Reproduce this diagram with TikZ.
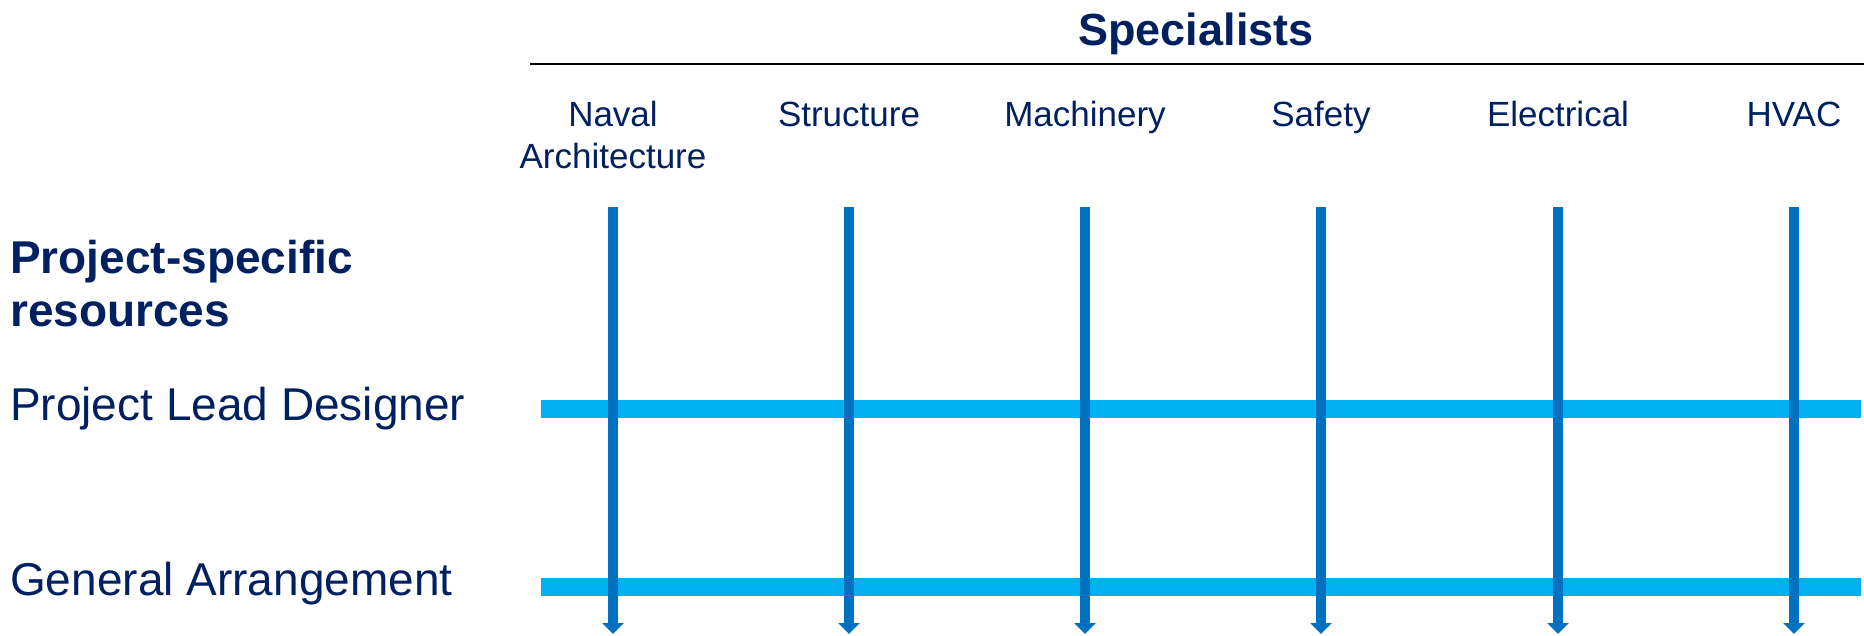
\documentclass[tikz,border=0pt]{standalone}
\usepackage{fontspec}
\setmainfont{Liberation Sans}
\usepackage{tikz}
\usetikzlibrary{arrows.meta}

\definecolor{navy}{HTML}{002060}
\definecolor{specblue}{HTML}{0070C0}
\definecolor{barblue}{HTML}{00B0F0}

\tikzset{
  heading/.style = {text=navy, font=\bfseries\fontsize{45}{53}\selectfont, inner sep=0pt},
  speclabel/.style = {text=navy, font=\fontsize{35}{42}\selectfont, align=center, inner sep=0pt, anchor=base},
  rowlabel/.style = {text=navy, font=\fontsize{46}{54}\selectfont, inner sep=0pt, anchor=base west},
  specline/.style = {specblue, line width=10pt, -{Triangle[width=21pt, length=11pt]}},
  rowbar/.style = {barblue, line width=18pt}
}

\begin{document}
\begin{tikzpicture}[x=1pt, y=-1pt]
\useasboundingbox ( 0, 0 ) rectangle ( 1864, 635 );

% Heading over the specialists
\node (specialists) at ( 1196, 45 ) [heading, anchor=base] {Specialists};
\draw [line width=2.5pt] ( 530, 64 ) -- ( 1864, 64 );

% Specialist labels (base is the last line)
\node (naval) at ( 613, 168 ) [speclabel] {Naval\\Architecture};
\node (structure) at ( 849, 126 ) [speclabel] {Structure};
\node (machinery) at ( 1085, 126 ) [speclabel] {Machinery};
\node (safety) at ( 1321, 126 ) [speclabel] {Safety};
\node (electrical) at ( 1558, 126 ) [speclabel] {Electrical};
\node (hvac) at ( 1794, 126 ) [speclabel] {HVAC};

% Project-specific resources
\node (resources) at ( 10, 326 ) [heading, font=\bfseries\fontsize{46}{53}\selectfont, align=left, anchor=base west] {Project-specific\\resources};
\node (leaddesigner) at ( 10, 420 ) [rowlabel] {Project Lead Designer};
\node (arrangement) at ( 10, 595 ) [rowlabel] {General Arrangement};

% Bar ends
\coordinate (lead-w) at ( 541, 409 );
\coordinate (lead-e) at ( 1861, 409 );
\coordinate (ga-w) at ( 541, 587 );
\coordinate (ga-e) at ( 1861, 587 );

\draw [rowbar] (lead-w) -- (lead-e);
\draw [rowbar] (ga-w) -- (ga-e);

% Line ends for the specialists
\coordinate (naval-top) at ( 613, 207 );
\coordinate (naval-end) at ( 613, 634 );
\coordinate (structure-top) at ( 849, 207 );
\coordinate (structure-end) at ( 849, 634 );
\coordinate (machinery-top) at ( 1085, 207 );
\coordinate (machinery-end) at ( 1085, 634 );
\coordinate (safety-top) at ( 1321, 207 );
\coordinate (safety-end) at ( 1321, 634 );
\coordinate (electrical-top) at ( 1558, 207 );
\coordinate (electrical-end) at ( 1558, 634 );
\coordinate (hvac-top) at ( 1794, 207 );
\coordinate (hvac-end) at ( 1794, 634 );

% Specialist lines
\draw [specline] (naval-top) -- (naval-end);
\draw [specline] (structure-top) -- (structure-end);
\draw [specline] (machinery-top) -- (machinery-end);
\draw [specline] (safety-top) -- (safety-end);
\draw [specline] (electrical-top) -- (electrical-end);
\draw [specline] (hvac-top) -- (hvac-end);

\end{tikzpicture}
\end{document}
